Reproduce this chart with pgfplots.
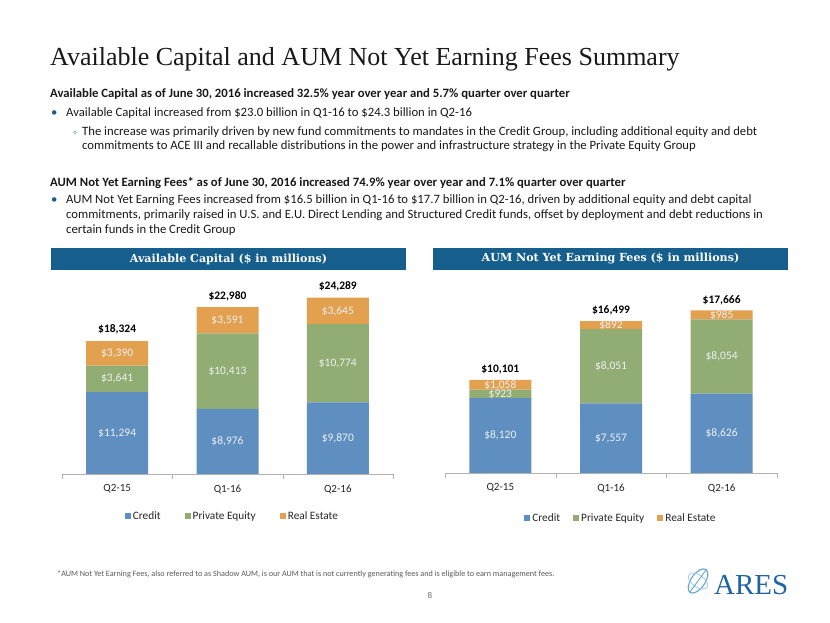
\documentclass[border=0pt]{standalone}
\usepackage{pgfplots}
\pgfplotsset{compat=1.18}
\usepackage{fontspec}
\setmainfont{Carlito}
\newfontfamily\seriffont{Liberation Serif}
\newfontfamily\hdrfont{DejaVu Serif}
\definecolor{credit}{RGB}{95,143,192}
\definecolor{pe}{RGB}{146,173,115}
\definecolor{re}{RGB}{227,160,78}
\definecolor{hdr}{RGB}{22,94,140}
\definecolor{seglab}{RGB}{236,240,244}
\definecolor{logoblue}{RGB}{31,100,168}
\definecolor{logolight}{RGB}{100,165,215}
\newcommand{\fs}[2]{\fontsize{#1}{#2}\selectfont}
\pgfplotsset{
  barbase/.style={
    anchor=south west, scale only axis,
    xmin=-0.5, xmax=2.5, ymin=0, clip=false,
  },
  barstyle/.style={
    barbase, ybar stacked, bar width=62pt,
    axis y line=none, axis x line*=bottom,
    x axis line style={-, draw=black!30},
    xtick={0,1,2}, xticklabels={Q2-15,Q1-16,Q2-16},
    minor xtick={-0.5,0.5,1.5,2.5},
    major x tick style={draw=none},
    minor x tick style={draw=black!30},
    minor tick length=5pt, tick align=outside,
    xticklabel style={font=\fs{11}{13}, text=black!85, yshift=-3pt},
    legend columns=3,
    legend image code/.code={\fill[#1] (0pt,-3pt) rectangle (6pt,3pt);},
  },
  labstyle/.style={
    barbase, hide axis,
  },
  seg/.style={draw=none, mark=none, nodes near coords, point meta=explicit symbolic,
    every node near coord/.append style={anchor=center, text=seglab, font=\fs{11.5}{13}}},
  tot/.style={draw=none, mark=none, nodes near coords, point meta=explicit symbolic,
    every node near coord/.append style={anchor=south, text=black, font=\bfseries\fs{11.5}{13}, yshift=#1}},
}
\begin{document}
\begin{tikzpicture}
\begin{scope}[x=1pt,y=1pt]
\fill[white] (0,0) rectangle (830,623);
% title
\node[anchor=base west, inner sep=0, text=black!90] at (50,557) {\seriffont\fs{26}{30}Available Capital and AUM Not Yet Earning Fees Summary};
% body text
\begin{scope}[every node/.style={anchor=base west, inner sep=0, text=black!90, font=\fs{12.7}{14}}]
\node at (50,525) {\bfseries Available Capital as of June 30, 2016 increased 32.5\% year over year and 5.7\% quarter over quarter};
\node[text=hdr] at (51,506) {•};
\node at (66,506) {Available Capital increased from \$23.0 billion in Q1-16 to \$24.3 billion in Q2-16};
\draw[logolight, line width=0.5pt] (75,490.5) circle (1.4);
\node at (82,487) {The increase was primarily driven by new fund commitments to mandates in the Credit Group, including additional equity and debt};
\node at (82,473) {commitments to ACE III and recallable distributions in the power and infrastructure strategy in the Private Equity Group};
\node at (50,436) {\bfseries AUM Not Yet Earning Fees* as of June 30, 2016 increased 74.9\% year over year and 7.1\% quarter over quarter};
\node[text=hdr] at (51,419) {•};
\node at (66,419) {AUM Not Yet Earning Fees increased from \$16.5 billion in Q1-16 to \$17.7 billion in Q2-16, driven by additional equity and debt capital};
\node at (66,404) {commitments, primarily raised in U.S. and E.U. Direct Lending and Structured Credit funds, offset by deployment and debt reductions in};
\node at (66,389) {certain funds in the Credit Group};
\end{scope}
% headers
\fill[hdr] (51,353) rectangle (406,375);
\node[text=white, font=\hdrfont\bfseries\fs{11.1}{14}] at (228.5,364) {Available Capital (\$ in millions)};
\fill[hdr] (433,353) rectangle (788,375);
\node[text=white, font=\hdrfont\bfseries\fs{11.1}{14}] at (610.5,364) {AUM Not Yet Earning Fees (\$ in millions)};
% footnote, page number
\node[anchor=base west, inner sep=0, text=black!65, font=\fs{8.15}{9}] at (57,46) {*AUM Not Yet Earning Fees, also referred to as Shadow AUM, is our AUM that is not currently generating fees and is eligible to earn management fees.};
\node[anchor=base, inner sep=0, text=black!55, font=\fs{9}{10}] at (430,24) {8};
% logo
\draw[logolight, line width=1.1pt, rotate around={55:(698,42)}] (698,42) ellipse (14 and 7);
\draw[logolight!60, line width=0.8pt, rotate around={-35:(698,42)}] (698,42) ellipse (11 and 6);
\draw[logolight, line width=0.9pt] (690,31) -- (706,53);
\node[anchor=base west, inner sep=0, text=logoblue, font=\seriffont\fs{29}{30}] at (714,28) {ARES};
\end{scope}

% ---------- Left chart ----------
\begin{axis}[barstyle, at={(62pt,149pt)}, width=331pt, height=217.7pt, ymax=30000,
  legend style={at={(0.515,-0.193)}, anchor=center, draw=none, fill=none,
    font=\fs{11.3}{13}, text=black!85,
    /tikz/every even column/.append style={column sep=22pt}}]
\addplot[fill=credit, draw=none] coordinates {(0,11294) (1,8976) (2,9870)};
\addlegendentry{Credit}
\addplot[fill=pe, draw=none] coordinates {(0,3641) (1,10413) (2,10774)};
\addlegendentry{Private Equity}
\addplot[fill=re, draw=none] coordinates {(0,3390) (1,3591) (2,3645)};
\addlegendentry{Real Estate}
\end{axis}
\begin{axis}[labstyle, at={(62pt,149pt)}, width=331pt, height=217.7pt, ymax=30000]
\addplot[seg] coordinates {(0,5647) [\$11,294] (1,4488) [\$8,976] (2,4935) [\$9,870]};
\addplot[seg] coordinates {(0,13115) [\$3,641] (1,14182) [\$10,413] (2,15257) [\$10,774]};
\addplot[seg] coordinates {(0,16630) [\$3,390] (1,21184) [\$3,591] (2,22466) [\$3,645]};
\addplot[tot=3pt] coordinates {(0,18324) [\$18,324] (1,22980) [\$22,980] (2,24289) [\$24,289]};
\end{axis}

% ---------- Right chart ----------
\begin{axis}[barstyle, at={(445pt,150pt)}, width=332pt, height=184.2pt, ymax=20000,
  legend style={at={(0.53,-0.244)}, anchor=center, draw=none, fill=none,
    font=\fs{11.3}{13}, text=black!85,
    /tikz/every even column/.append style={column sep=11pt}}]
\addplot[fill=credit, draw=none] coordinates {(0,8120) (1,7557) (2,8626)};
\addlegendentry{Credit}
\addplot[fill=pe, draw=none] coordinates {(0,923) (1,8051) (2,8054)};
\addlegendentry{Private Equity}
\addplot[fill=re, draw=none] coordinates {(0,1058) (1,892) (2,985)};
\addlegendentry{Real Estate}
\end{axis}
\begin{axis}[labstyle, at={(445pt,150pt)}, width=332pt, height=184.2pt, ymax=20000]
\addplot[seg] coordinates {(0,4060) [\$8,120] (1,3778) [\$7,557] (2,4313) [\$8,626]};
\addplot[seg] coordinates {(0,8581) [\$923] (1,11582) [\$8,051] (2,12653) [\$8,054]};
\addplot[seg] coordinates {(0,9572) [\$1,058] (1,16054) [\$892] (2,17172) [\$985]};
\addplot[tot=2pt] coordinates {(0,10101) [\$10,101] (1,16499) [\$16,499] (2,17666) [\$17,666]};
\end{axis}
\end{tikzpicture}
\end{document}
